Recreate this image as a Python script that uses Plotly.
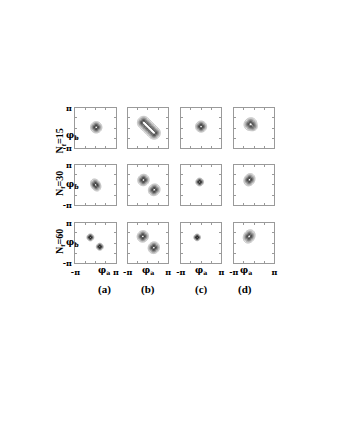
import numpy as np
import plotly.graph_objects as go

PI = np.pi

row_labels = ["N<sub>f</sub>=15", "N<sub>f</sub>=30", "N<sub>f</sub>=60"]
col_labels = ["(a)", "(b)", "(c)", "(d)"]
tick_vals = [-PI, PI]
tick_text = ["-π", "π"]

# Gaussian density peaks (radians): panel row/col, centre, widths, tilt
blob_row = [0, 0, 0, 0, 1, 1, 1, 1, 1, 2, 2, 2, 2, 2, 2]
blob_col = [0, 2, 3, 3, 0, 1, 1, 2, 3, 0, 0, 1, 1, 2, 3]
blob_cx = [0.08, 0.00, -0.57, -0.05, 0.00, -0.69, 0.98, -0.22, -0.72, -0.83, 0.64, -0.79, 0.92, -0.61, -0.76]
blob_cy = [0.11, 0.22, 0.61, 0.15, 0.00, 0.77, -0.75, 0.46, 0.81, 0.87, -0.58, 1.02, -0.73, 0.87, 1.02]
blob_sa = [0.41, 0.40, 0.48, 0.30, 0.46, 0.42, 0.44, 0.28, 0.46, 0.25, 0.25, 0.42, 0.43, 0.24, 0.50]
blob_sb = [0.41, 0.40, 0.44, 0.30, 0.34, 0.40, 0.40, 0.28, 0.38, 0.25, 0.25, 0.40, 0.40, 0.24, 0.40]
blob_tilt = [0, 0, 45, 0, 120, 45, 45, 0, 60, 0, 0, 60, 60, 0, 60]
blob_amp = [1.0, 1.0, 1.0, 0.35, 1.0, 1.0, 1.0, 1.0, 1.0, 1.0, 1.0, 1.0, 1.0, 1.0, 1.0]

# elongated ridge (N_f=15, column b)
seg_row = [0]
seg_col = [1]
seg_x0 = [-0.66]
seg_y0 = [0.84]
seg_x1 = [0.96]
seg_y1 = [-0.76]
seg_sigma = [0.45]

# layout: positions in window pixels as measured on the reference.
# The page body has an 8px margin, so the figure is made 16px smaller to fit the window.
WIN_W, WIN_H = 346, 448
OFF = 8
W, H = WIN_W - 2 * OFF, WIN_H - 2 * OFF
col_left = [72, 125.5, 180, 234.3]
row_top = [105, 163.3, 222.7]
pw, ph = 41.5, 41.5

g = np.linspace(-PI, PI, 161)
X, Y = np.meshgrid(g, g)


def panel_field(r, c):
    Z = np.zeros_like(X)
    for i in range(len(blob_row)):
        if blob_row[i] == r and blob_col[i] == c:
            t = np.deg2rad(blob_tilt[i])
            dx, dy = X - blob_cx[i], Y - blob_cy[i]
            u = np.cos(t) * dx + np.sin(t) * dy
            v = -np.sin(t) * dx + np.cos(t) * dy
            Z += blob_amp[i] * np.exp(-0.5 * (u ** 2 / blob_sa[i] ** 2 + v ** 2 / blob_sb[i] ** 2))
    for i in range(len(seg_row)):
        if seg_row[i] == r and seg_col[i] == c:
            ax, ay = seg_x0[i], seg_y0[i]
            bx, by = seg_x1[i], seg_y1[i]
            vx, vy = bx - ax, by - ay
            tt = np.clip(((X - ax) * vx + (Y - ay) * vy) / (vx ** 2 + vy ** 2), 0, 1)
            d2 = (X - ax - tt * vx) ** 2 + (Y - ay - tt * vy) ** 2
            Z += np.exp(-0.5 * d2 / seg_sigma[i] ** 2)
    m = Z.max()
    return Z / m if m > 0 else Z


def px(xp):
    return (xp - OFF) / W


def py(yp):
    return 1 - (yp - OFF) / H


SERIF = "Liberation Serif"
GREEK = "DejaVu Serif"
fig = go.Figure()
layout = dict(
    width=W, height=H, margin=dict(l=0, r=0, t=0, b=0),
    paper_bgcolor="white", plot_bgcolor="white", showlegend=False,
    font=dict(family=SERIF, color="black", size=10),
)

tfont = dict(family=GREEK, size=8, color="black", weight="bold")
ann = []
idx = 0
for r in range(3):
    for c in range(4):
        idx += 1
        xa = "x" if idx == 1 else f"x{idx}"
        ya = "y" if idx == 1 else f"y{idx}"
        Z = panel_field(r, c)
        fig.add_trace(go.Contour(
            x=g, y=g, z=Z, xaxis=xa, yaxis=ya,
            zmin=0, zmax=1, showscale=False,
            contours=dict(start=0.1, end=0.96, size=0.1, coloring="lines"),
            colorscale=[[0, "#a0a0a0"], [0.5, "#5a5a5a"], [1, "#000000"]],
            line=dict(width=0.7), hoverinfo="skip",
        ))
        common = dict(
            range=[-PI, PI], showgrid=False, zeroline=False,
            showline=True, linecolor="#9a9a9a", linewidth=1, mirror="ticks",
            tickmode="array", tickvals=tick_vals, ticktext=tick_text,
            ticks="", tickfont=tfont,
            minor=dict(tickmode="array", tickvals=[-PI / 2, 0, PI / 2],
                       ticks="inside", ticklen=2, tickcolor="#9a9a9a", tickwidth=1),
            fixedrange=True,
        )
        kx = "xaxis" if idx == 1 else f"xaxis{idx}"
        ky = "yaxis" if idx == 1 else f"yaxis{idx}"
        layout[kx] = dict(common, domain=[px(col_left[c]), px(col_left[c] + pw)], anchor=ya,
                          showticklabels=(r == 2), ticklabelstandoff=1)
        layout[ky] = dict(common, domain=[py(row_top[r] + ph), py(row_top[r])], anchor=xa,
                          showticklabels=(c == 0), ticklabelstandoff=1)

lfont = dict(family=SERIF, size=10, color="black", weight="bold")
gfont = dict(family=GREEK, size=9, color="black", weight="bold")
for r in range(3):
    yc = row_top[r] + ph / 2
    ann.append(dict(x=px(48), y=py(yc - 1.5), xref="paper", yref="paper",
                    text=row_labels[r], textangle=-90, showarrow=False, font=lfont))
    ann.append(dict(x=px(60), y=py(yc), xref="paper", yref="paper",
                    text="φ<sub>b</sub>", showarrow=False, font=gfont))
for c in range(4):
    xc = col_left[c] + pw / 2
    ann.append(dict(x=px(xc), y=py(272), xref="paper", yref="paper",
                    text="φ<sub>a</sub>", showarrow=False, font=gfont))
    ann.append(dict(x=px(xc), y=py(291.5), xref="paper", yref="paper",
                    text=col_labels[c], showarrow=False,
                    font=dict(family=SERIF, size=11, color="black", weight="bold")))

layout["annotations"] = ann
fig.update_layout(**layout)
fig.write_html("out.html")
